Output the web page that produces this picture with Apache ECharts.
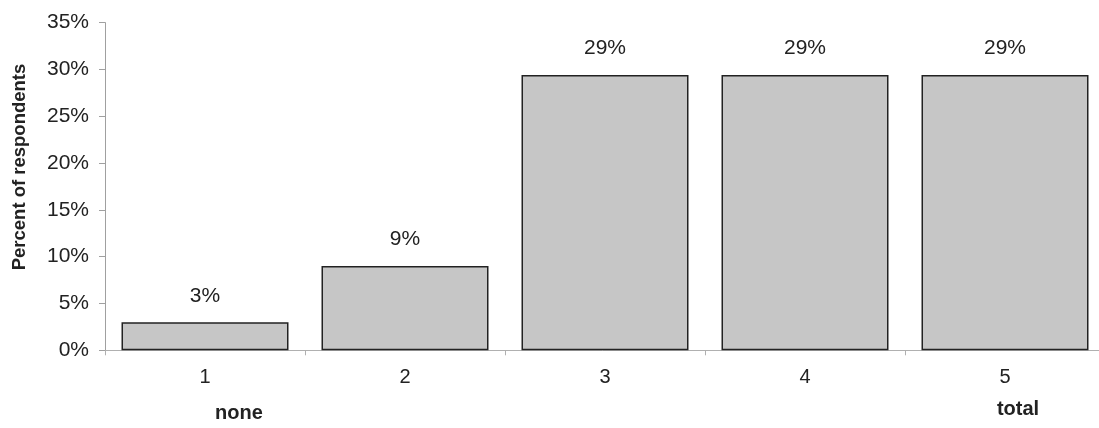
<!DOCTYPE html>
<html>
<head>
<meta charset="utf-8">
<script src="https://cdn.jsdelivr.net/npm/echarts@6/dist/echarts.min.js"></script>
<style>
  html, body { margin: 0; padding: 0; background: #fff; }
  #chart { width: 1099px; height: 428px; }
</style>
</head>
<body>
<div id="chart"></div>
<script>
// Response categories on the 1–5 scale and share of respondents (%)
const categories = ['1', '2', '3', '4', '5'];
const percentValues = [3, 9, 29.4, 29.4, 29.4];
const yTicks = { min: 0, max: 35, interval: 5 };
const scaleEndLabels = ['none', 'total'];
const yTitle = 'Percent of respondents';

const FONT = '"Liberation Sans", Arial, sans-serif';

const chart = echarts.init(document.getElementById('chart'), null, { renderer: 'canvas' });

chart.setOption({
  animation: false,
  backgroundColor: '#ffffff',
  grid: {
    left: 105, right: -6, top: 22.6, bottom: 77.7,
    containLabel: false, outerBoundsMode: 'none'
  },
  xAxis: {
    type: 'category',
    data: categories,
    axisLine: { show: true, lineStyle: { color: '#b0b0b0', width: 1 } },
    axisTick: { show: true, length: 5, alignWithLabel: false, lineStyle: { color: '#b0b0b0' } },
    axisLabel: { color: '#222', fontFamily: FONT, fontSize: 20, margin: 17 },
    splitLine: { show: false }
  },
  yAxis: {
    type: 'value',
    min: yTicks.min,
    max: yTicks.max,
    interval: yTicks.interval,
    axisLine: { show: true, lineStyle: { color: '#a0a0a0', width: 1 } },
    axisTick: { show: true, inside: false, length: 6, lineStyle: { color: '#a0a0a0' } },
    axisLabel: {
      color: '#222', fontFamily: FONT, fontSize: 21, margin: 16,
      formatter: v => v + '%'
    },
    splitLine: { show: false }
  },
  series: [{
    type: 'bar',
    data: percentValues,
    barCategoryGap: '16.5%',
    itemStyle: { color: '#c6c6c6', borderColor: '#222', borderWidth: 1.5 },
    label: {
      show: true,
      position: 'top',
      distance: 16,
      color: '#222',
      fontFamily: FONT,
      fontSize: 21,
      formatter: p => Math.round(p.value) + '%'
    }
  }]
});

// Axis title plus the scale anchors under the first and last categories
function placeTexts() {
  const y = 413;
  const xNone = chart.convertToPixel({ xAxisIndex: 0 }, categories[0]) + 34;
  const xTotal = chart.convertToPixel({ xAxisIndex: 0 }, categories[categories.length - 1]) + 13;
  const bold = 'bold 20px ' + FONT;
  chart.setOption({
    graphic: [
      { type: 'text', x: 20, y: 167, rotation: Math.PI / 2,
        style: { text: yTitle, fill: '#222', font: 'bold 18.5px ' + FONT, textAlign: 'center', textVerticalAlign: 'middle' } },
      { type: 'text', x: xNone, y: y, style: { text: scaleEndLabels[0], fill: '#222', font: bold, textAlign: 'center', textVerticalAlign: 'middle' } },
      { type: 'text', x: xTotal, y: y - 4, style: { text: scaleEndLabels[1], fill: '#222', font: bold, textAlign: 'center', textVerticalAlign: 'middle' } }
    ]
  });
}
placeTexts();
</script>
</body>
</html>
